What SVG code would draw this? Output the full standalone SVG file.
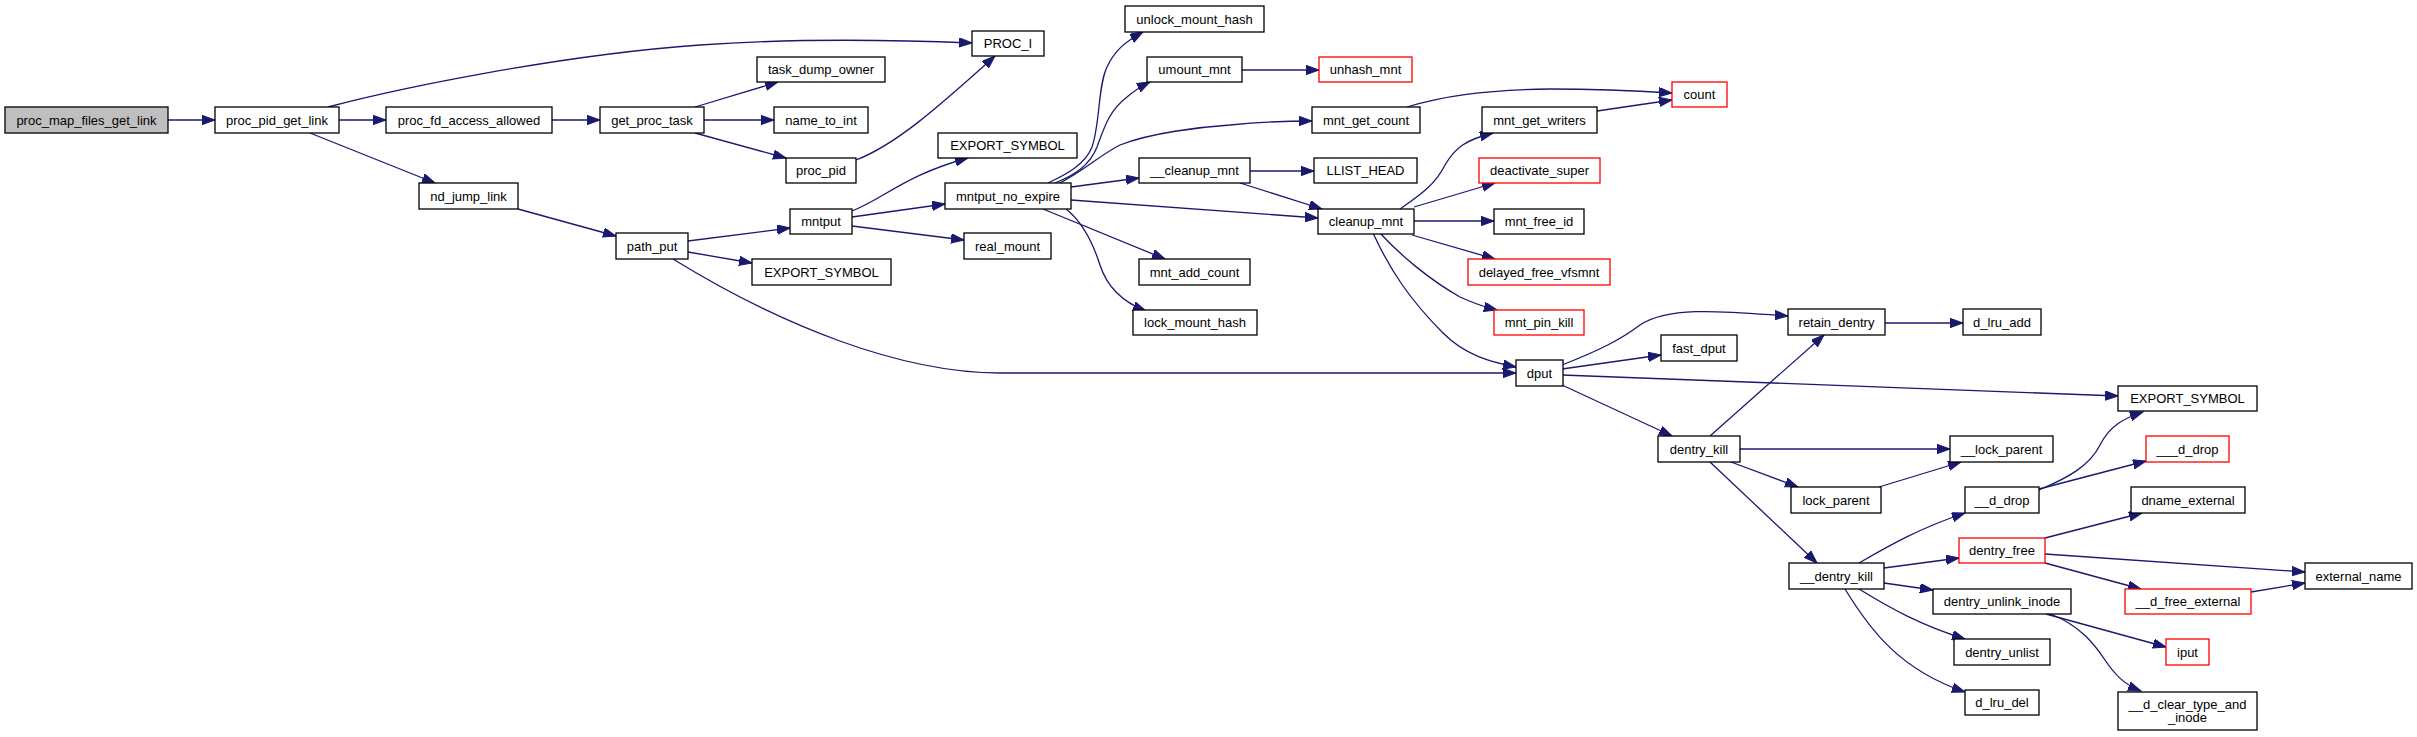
<svg xmlns="http://www.w3.org/2000/svg" width="2417" height="737" viewBox="0 0 2417 737">
<style>
.n rect{fill:#fff;stroke:#000;stroke-width:1.3}
.n.root rect{fill:#bfbfbf}
.n.red rect{stroke:#ff0000}
.n text{font-family:"Liberation Sans",Arial,sans-serif;font-size:13px;fill:#000;text-anchor:middle;dominant-baseline:central}
.e path{fill:none;stroke:#191970;stroke-width:1.3;marker-end:url(#arr)}
</style>
<defs>
<marker id="arr" markerUnits="userSpaceOnUse" markerWidth="14" markerHeight="10" refX="13" refY="4.7" orient="auto">
<path d="M0,0 L13,4.7 L0,9.4 z" fill="#191970" stroke="#191970" stroke-width="1"/>
</marker>
</defs>
<rect width="2417" height="737" fill="#fff"/>
<g id="connectors" class="e">
<path d="M168,120 L215,120"/>
<path d="M328,107 C400,88 560,55 700,45 C800,38 900,40 972,43"/>
<path d="M339,120 L386,120"/>
<path d="M310,133 L435,183"/>
<path d="M552,120 L600,120"/>
<path d="M695,107 L778,82"/>
<path d="M704,120 L774,120"/>
<path d="M695,133 L786,158"/>
<path d="M856,160 C895,145 935,110 995,56"/>
<path d="M518,209 L616,236"/>
<path d="M688,241 L790,228"/>
<path d="M688,252 L752,263"/>
<path d="M673,259 C780,325 900,373 1000,373 L1516,373"/>
<path d="M852,211 C885,198 905,175 968,158"/>
<path d="M852,217 L945,204"/>
<path d="M852,226 L964,240"/>
<path d="M1048,183 C1065,175 1085,165 1092,147 C1100,125 1098,85 1107,67 C1115,50 1125,42 1143,32"/>
<path d="M1055,183 C1075,175 1090,165 1097,147 C1105,125 1110,110 1127,97 C1135,90 1142,86 1150,82"/>
<path d="M1060,183 C1085,170 1100,155 1120,145 C1150,133 1200,127 1230,125 C1260,122 1290,121 1312,121"/>
<path d="M1071,187 L1139,178"/>
<path d="M1071,200 L1318,218"/>
<path d="M1043,209 L1165,259"/>
<path d="M1066,209 C1080,220 1092,240 1100,265 C1108,290 1125,303 1146,311"/>
<path d="M1242,70 L1319,70"/>
<path d="M1407,107 C1440,97 1480,90 1550,89 C1600,89 1640,91 1672,93"/>
<path d="M1597,111 L1672,100"/>
<path d="M1250,171 L1314,171"/>
<path d="M1240,183 L1322,209"/>
<path d="M1400,209 C1420,195 1435,185 1445,165 C1455,148 1465,140 1493,133"/>
<path d="M1414,207 L1495,183"/>
<path d="M1414,221 L1494,221"/>
<path d="M1412,235 L1495,259"/>
<path d="M1380,233 C1400,255 1430,280 1460,297 C1475,304 1485,307 1497,310"/>
<path d="M1373,233 C1390,270 1410,300 1443,333 C1465,355 1490,362 1516,367"/>
<path d="M1562,365 C1600,350 1620,340 1640,325 C1670,305 1730,312 1788,316"/>
<path d="M1562,369 L1661,355"/>
<path d="M1562,375 L2118,396"/>
<path d="M1562,385 L1672,436"/>
<path d="M1885,323 L1963,323"/>
<path d="M1710,436 L1824,335"/>
<path d="M1740,449 L1950,449"/>
<path d="M1731,462 L1798,487"/>
<path d="M1710,462 L1817,563"/>
<path d="M1879,487 L1961,462"/>
<path d="M1859,563 C1890,545 1920,528 1965,513"/>
<path d="M1884,568 L1959,558"/>
<path d="M1884,583 L1933,590"/>
<path d="M1859,589 C1890,608 1920,625 1965,639"/>
<path d="M1845,589 C1870,630 1900,670 1965,692"/>
<path d="M2039,490 C2070,477 2090,465 2100,445 C2110,425 2125,418 2143,412"/>
<path d="M2039,489 L2146,461"/>
<path d="M2045,538 L2142,513"/>
<path d="M2045,554 L2305,572"/>
<path d="M2045,563 L2141,589"/>
<path d="M2251,592 L2305,583"/>
<path d="M2046,614 L2166,647"/>
<path d="M2050,614 C2080,625 2095,645 2105,660 C2115,675 2125,685 2141,691"/>
</g>
<g id="proc_map_files_get_link" class="n root"><rect x="5" y="107" width="163" height="26"/><text x="86.5" y="120">proc_map_files_get_link</text></g>
<g id="proc_pid_get_link" class="n"><rect x="215" y="107" width="124" height="26"/><text x="277" y="120">proc_pid_get_link</text></g>
<g id="proc_fd_access_allowed" class="n"><rect x="386" y="107" width="166" height="26"/><text x="469" y="120">proc_fd_access_allowed</text></g>
<g id="get_proc_task" class="n"><rect x="600" y="107" width="104" height="26"/><text x="652" y="120">get_proc_task</text></g>
<g id="task_dump_owner" class="n"><rect x="757" y="57" width="128" height="25"/><text x="821" y="69.5">task_dump_owner</text></g>
<g id="name_to_int" class="n"><rect x="774" y="107" width="94" height="26"/><text x="821" y="120">name_to_int</text></g>
<g id="proc_pid" class="n"><rect x="786" y="158" width="70" height="25"/><text x="821" y="170.5">proc_pid</text></g>
<g id="PROC_I" class="n"><rect x="972" y="31" width="72" height="25"/><text x="1008" y="43.5">PROC_I</text></g>
<g id="nd_jump_link" class="n"><rect x="419" y="183" width="99" height="26"/><text x="468.5" y="196">nd_jump_link</text></g>
<g id="path_put" class="n"><rect x="616" y="233" width="72" height="26"/><text x="652" y="246">path_put</text></g>
<g id="EXPORT_SYMBOL_a" class="n"><rect x="752" y="259" width="139" height="26"/><text x="821.5" y="272">EXPORT_SYMBOL</text></g>
<g id="mntput" class="n"><rect x="790" y="209" width="62" height="25"/><text x="821" y="221.5">mntput</text></g>
<g id="EXPORT_SYMBOL_b" class="n"><rect x="938" y="133" width="139" height="25"/><text x="1007.5" y="145.5">EXPORT_SYMBOL</text></g>
<g id="real_mount" class="n"><rect x="964" y="233" width="87" height="26"/><text x="1007.5" y="246">real_mount</text></g>
<g id="mntput_no_expire" class="n"><rect x="945" y="183" width="126" height="26"/><text x="1008" y="196">mntput_no_expire</text></g>
<g id="unlock_mount_hash" class="n"><rect x="1125" y="6" width="139" height="26"/><text x="1194.5" y="19">unlock_mount_hash</text></g>
<g id="umount_mnt" class="n"><rect x="1147" y="57" width="95" height="25"/><text x="1194.5" y="69.5">umount_mnt</text></g>
<g id="unhash_mnt" class="n red"><rect x="1319" y="57" width="93" height="25"/><text x="1365.5" y="69.5">unhash_mnt</text></g>
<g id="mnt_get_count" class="n"><rect x="1312" y="107" width="108" height="26"/><text x="1366" y="120">mnt_get_count</text></g>
<g id="__cleanup_mnt" class="n"><rect x="1139" y="158" width="111" height="25"/><text x="1194.5" y="170.5">__cleanup_mnt</text></g>
<g id="mnt_add_count" class="n"><rect x="1139" y="259" width="111" height="26"/><text x="1194.5" y="272">mnt_add_count</text></g>
<g id="lock_mount_hash" class="n"><rect x="1133" y="310" width="124" height="25"/><text x="1195" y="322.5">lock_mount_hash</text></g>
<g id="count" class="n red"><rect x="1672" y="82" width="55" height="25"/><text x="1699.5" y="94.5">count</text></g>
<g id="mnt_get_writers" class="n"><rect x="1482" y="107" width="115" height="26"/><text x="1539.5" y="120">mnt_get_writers</text></g>
<g id="LLIST_HEAD" class="n"><rect x="1314" y="158" width="103" height="25"/><text x="1365.5" y="170.5">LLIST_HEAD</text></g>
<g id="deactivate_super" class="n red"><rect x="1479" y="158" width="121" height="25"/><text x="1539.5" y="170.5">deactivate_super</text></g>
<g id="cleanup_mnt" class="n"><rect x="1318" y="209" width="96" height="25"/><text x="1366" y="221.5">cleanup_mnt</text></g>
<g id="mnt_free_id" class="n"><rect x="1494" y="209" width="90" height="25"/><text x="1539" y="221.5">mnt_free_id</text></g>
<g id="delayed_free_vfsmnt" class="n red"><rect x="1468" y="259" width="142" height="26"/><text x="1539" y="272">delayed_free_vfsmnt</text></g>
<g id="mnt_pin_kill" class="n red"><rect x="1494" y="310" width="90" height="25"/><text x="1539" y="322.5">mnt_pin_kill</text></g>
<g id="dput" class="n"><rect x="1516" y="360" width="47" height="26"/><text x="1539.5" y="373">dput</text></g>
<g id="fast_dput" class="n"><rect x="1661" y="335" width="76" height="26"/><text x="1699" y="348">fast_dput</text></g>
<g id="retain_dentry" class="n"><rect x="1788" y="309" width="97" height="26"/><text x="1836.5" y="322">retain_dentry</text></g>
<g id="d_lru_add" class="n"><rect x="1963" y="309" width="78" height="26"/><text x="2002" y="322">d_lru_add</text></g>
<g id="EXPORT_SYMBOL_c" class="n"><rect x="2118" y="386" width="139" height="25"/><text x="2187.5" y="398.5">EXPORT_SYMBOL</text></g>
<g id="dentry_kill" class="n"><rect x="1658" y="436" width="82" height="26"/><text x="1699" y="449">dentry_kill</text></g>
<g id="__lock_parent" class="n"><rect x="1950" y="436" width="103" height="26"/><text x="2001.5" y="449">__lock_parent</text></g>
<g id="___d_drop" class="n red"><rect x="2146" y="436" width="83" height="26"/><text x="2187.5" y="449">___d_drop</text></g>
<g id="lock_parent" class="n"><rect x="1791" y="487" width="90" height="26"/><text x="1836" y="500">lock_parent</text></g>
<g id="__d_drop" class="n"><rect x="1965" y="487" width="74" height="26"/><text x="2002" y="500">__d_drop</text></g>
<g id="dname_external" class="n"><rect x="2131" y="487" width="114" height="26"/><text x="2188" y="500">dname_external</text></g>
<g id="dentry_free" class="n red"><rect x="1959" y="538" width="86" height="25"/><text x="2002" y="550.5">dentry_free</text></g>
<g id="__dentry_kill" class="n"><rect x="1789" y="563" width="95" height="26"/><text x="1836.5" y="576">__dentry_kill</text></g>
<g id="external_name" class="n"><rect x="2305" y="563" width="107" height="26"/><text x="2358.5" y="576">external_name</text></g>
<g id="dentry_unlink_inode" class="n"><rect x="1933" y="589" width="138" height="25"/><text x="2002" y="601.5">dentry_unlink_inode</text></g>
<g id="__d_free_external" class="n red"><rect x="2125" y="589" width="126" height="25"/><text x="2188" y="601.5">__d_free_external</text></g>
<g id="dentry_unlist" class="n"><rect x="1954" y="639" width="96" height="26"/><text x="2002" y="652">dentry_unlist</text></g>
<g id="iput" class="n red"><rect x="2166" y="639" width="43" height="26"/><text x="2187.5" y="652">iput</text></g>
<g id="d_lru_del" class="n"><rect x="1965" y="690" width="74" height="25"/><text x="2002" y="702.5">d_lru_del</text></g>
<g id="__d_clear_type_and_inode" class="n"><rect x="2118" y="692" width="139" height="38"/><text x="2187.5" y="704">__d_clear_type_and</text><text x="2187.5" y="717">_inode</text></g>
</svg>
